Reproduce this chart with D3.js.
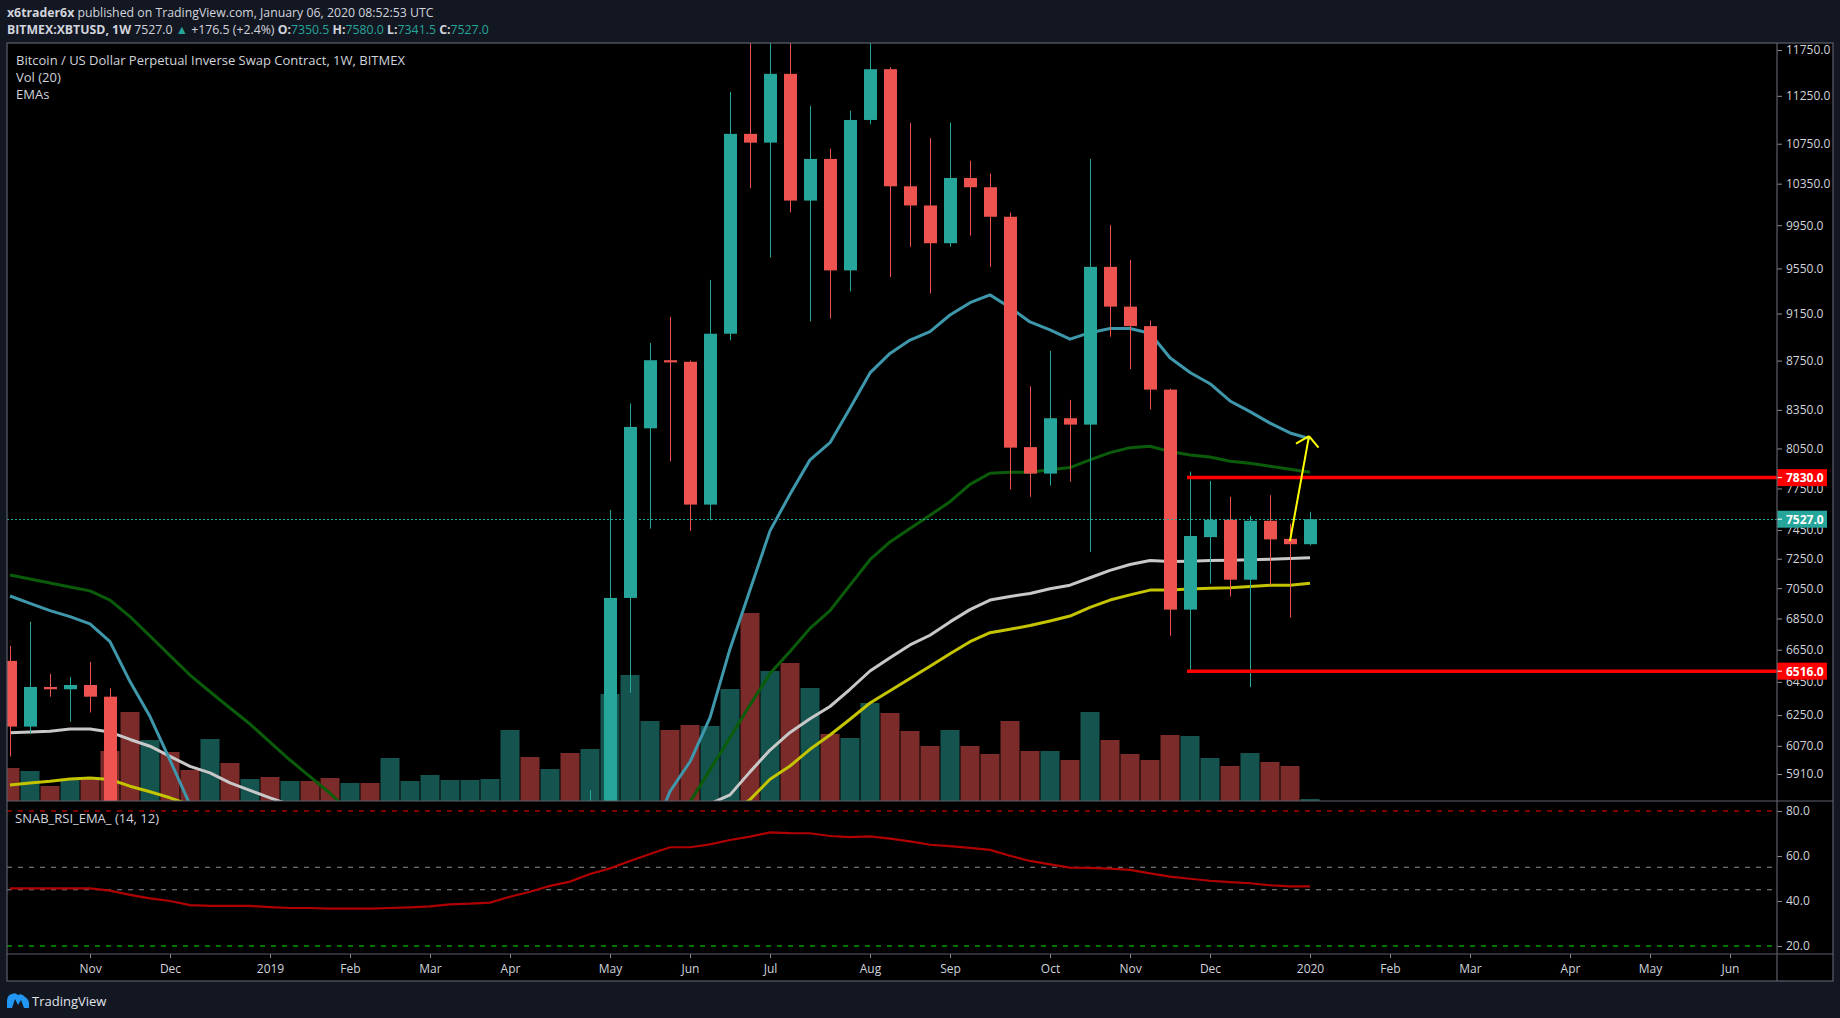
<!DOCTYPE html>
<html><head><meta charset="utf-8">
<script src="https://cdn.jsdelivr.net/npm/d3@7"></script>
<style>
html,body{margin:0;padding:0;background:#131722;overflow:hidden;}
svg{display:block;font-family:"Open Sans","Noto Sans",sans-serif;}
</style></head><body>
<svg id="c" width="1840" height="1018"></svg>
<script>
// ---------- DATA ----------
const weeks = ["2018-10-08","2018-10-15","2018-10-22","2018-10-29","2018-11-05","2018-11-12","2018-11-19","2018-11-26","2018-12-03","2018-12-10","2018-12-17","2018-12-24","2018-12-31",
"2019-01-07","2019-01-14","2019-01-21","2019-01-28","2019-02-04","2019-02-11","2019-02-18","2019-02-25","2019-03-04","2019-03-11","2019-03-18","2019-03-25","2019-04-01","2019-04-08","2019-04-15","2019-04-22","2019-04-29","2019-05-06","2019-05-13","2019-05-20","2019-05-27","2019-06-03","2019-06-10","2019-06-17","2019-06-24","2019-07-01","2019-07-08","2019-07-15","2019-07-22","2019-07-29","2019-08-05","2019-08-12","2019-08-19","2019-08-26","2019-09-02","2019-09-09","2019-09-16","2019-09-23","2019-09-30","2019-10-07","2019-10-14","2019-10-21","2019-10-28","2019-11-04","2019-11-11","2019-11-18","2019-11-25","2019-12-02","2019-12-09","2019-12-16","2019-12-23","2019-12-30","2020-01-06"];
const open  = [6580,6182,6419,6405,6431,6360,5600,4000,4100,3400,3250,4000,3850,4050,3600,3620,3560,3450,3650,3620,3850,3870,3950,4000,4020,4120,5050,5020,5300,5250,5750,6985,8205,8753,8740,7632,8976,10851,10761,11487,10185,10596,9532,10995,11538,10324,10138,9781,10406,10315,10030,8060,7860,8284,8234,9564,9210,9041,8512,6908,7400,7523,7107,7516,7388,7350.5];
const high  = [6674,6828,6499,6480,6573,6410,5630,4400,4200,3600,4200,4250,4100,4100,3750,3680,3600,3700,3700,4200,3900,4000,4050,4100,4200,5300,5450,5400,5650,5820,7593,8401,8897,9121,8750,9446,11291,13880,12000,13200,11143,10700,11092,12300,11560,10963,10807,10968,10578,10449,10070,8539,8831,8429,10596,9950,9627,9090,8520,7875,7805,7689,7550,7700,7495,7580];
const low   = [6009,6140,6360,6211,6265,5300,3650,3500,3300,3150,3200,3600,3700,3500,3500,3480,3350,3400,3550,3600,3750,3700,3800,3950,3950,4100,4900,5000,5050,5250,5750,6383,7460,7952,7444,7519,8920,10305,9649,10072,9082,9107,9344,10950,9472,9748,9326,9748,9852,9564,7743,7689,7771,7800,7297,8951,8680,8354,6739,6518,7081,6995,6418,7070,6856,7341.5];
const close = [6182,6419,6405,6431,6360,5600,4000,4100,3400,3250,4000,3850,4050,3600,3620,3560,3450,3650,3620,3850,3870,3950,4000,4020,4120,5050,5020,5300,5250,5750,6985,8216,8753,8735,7632,8976,10851,10761,11487,10185,10596,9532,10995,11538,10324,10138,9781,10406,10315,10030,8056,7860,8284,8234,9564,9210,9041,8512,6908,7408,7523,7107,7516,7384,7350.5,7527];
const volume = [3.3,3.0,1.5,2.1,2.3,5.0,8.9,6.1,4.9,3.1,6.2,3.8,2.2,2.4,2.0,2.0,2.3,1.8,1.8,4.3,2.0,2.6,2.1,2.1,2.2,7.1,4.4,3.2,4.8,5.2,10.7,12.6,8.0,7.1,7.6,7.5,11.2,18.8,13.0,13.8,11.3,6.7,6.3,9.8,8.8,7.0,5.5,7.1,5.5,4.7,8.0,5.0,5.0,4.1,8.9,6.1,4.7,4.1,6.6,6.5,4.3,3.5,4.8,3.9,3.5,0.2];
const emaTeal   = [6998,6949,6901,6862,6815,6701,6452,6241,5989,5740,5300,4850,4550,4350,4180,4050,3950,3870,3820,3800,3800,3820,3850,3880,3920,4050,4180,4300,4400,4550,4850,5200,5550,5813,5979,6235,6655,7038,7444,7708,7963,8094,8362,8648,8810,8922,8993,9137,9244,9313,9202,9077,9009,8930,8985,9020,9020,8980,8774,8652,8560,8421,8336,8246,8169,8124];
const emaGreen  = [7139,7112,7085,7058,7032,6971,6862,6737,6613,6492,6390,6292,6197,6092,5989,5895,5803,5700,5600,5520,5440,5370,5300,5240,5180,5200,5180,5190,5180,5230,5330,5450,5560,5650,5755,5933,6118,6310,6501,6639,6786,6901,7070,7243,7366,7460,7555,7653,7780,7863,7870,7870,7888,7905,7963,8018,8056,8067,8026,8000,7985,7952,7937,7915,7893,7870];
const emaWhite  = [6146,6150,6155,6168,6168,6150,6107,6068,6010,5953,5916,5860,5819,5778,5740,5700,5660,5620,5580,5550,5520,5490,5460,5440,5420,5430,5430,5440,5445,5460,5510,5570,5630,5680,5715,5745,5794,5922,6046,6148,6228,6301,6405,6517,6599,6680,6742,6828,6908,6971,6995,7015,7046,7070,7120,7170,7210,7237,7230,7233,7237,7240,7243,7247,7251,7256];
const emaYellow = [5849,5860,5869,5882,5888,5879,5842,5811,5778,5740,5705,5670,5640,5610,5580,5550,5520,5495,5470,5450,5430,5410,5390,5375,5360,5365,5370,5375,5380,5390,5420,5460,5500,5540,5580,5620,5690,5768,5881,5955,6050,6133,6225,6322,6396,6471,6547,6624,6701,6758,6780,6805,6834,6866,6923,6971,7005,7037,7037,7045,7050,7053,7062,7070,7070,7083];
const rsi = [45.6,45.6,45.6,45.6,45.6,44.6,42.7,41.2,40.0,38.2,37.8,37.8,37.8,37.3,36.9,36.9,36.6,36.6,36.6,36.9,37.2,37.6,38.5,38.8,39.3,41.9,44.1,46.7,48.6,52.0,54.5,57.8,60.9,63.9,63.9,65.2,67.1,68.6,70.5,70.2,70.1,68.9,68.4,68.7,67.7,66.5,65.0,64.4,63.6,62.7,60.1,57.8,56.3,54.8,54.7,54.4,53.8,52.3,50.8,49.9,49.0,48.4,47.9,47.0,46.5,46.5];
const priceTicks = [11750,11250,10750,10350,9950,9550,9150,8750,8350,8050,7750,7450,7250,7050,6850,6650,6450,6250,6070,5910];
const rsiTicks = [80,60,40,20];
const rsiLevels = [{v:80,c:"#ff0000"},{v:55,c:"#8a8d96"},{v:45,c:"#8a8d96"},{v:20,c:"#00e600"}];
const timeTicks = ["2018-11-05","2018-12-03","2019-01-07","2019-02-04","2019-03-04","2019-04-01","2019-05-06","2019-06-03","2019-07-01","2019-08-05","2019-09-02","2019-10-07","2019-11-04","2019-12-02","2020-01-06","2020-02-03","2020-03-02","2020-04-06","2020-05-04","2020-06-01"];
const timeLabels = ["Nov","Dec","2019","Feb","Mar","Apr","May","Jun","Jul","Aug","Sep","Oct","Nov","Dec","2020","Feb","Mar","Apr","May","Jun"];
const levelLines = [{price:7830,from:"2019-11-25"},{price:6516,from:"2019-11-25"}];
const lastPrice = 7527;
const arrowPts = [{d:"2019-12-30",p:7373},{d:"2020-01-06",p:8145}];

// ---------- LAYOUT ----------
const W=1840,H=1018;
const L=7, R=1777, T=43, MB=801, RB=954, TB=981, OR=1833;
const UP="#26a69a", DN="#ef5350", UPV="#14534e", DNV="#7a2b2a";
const TXT="#d1d4dc", GRID="#5d606b";

const svg=d3.select('#c');
svg.append('rect').attr('width',W).attr('height',H).attr('fill','#131722');
svg.append('rect').attr('x',L).attr('y',T).attr('width',OR-L).attr('height',TB-T).attr('fill','#000');

const parse=d3.utcParse('%Y-%m-%d');
const dates=weeks.map(parse);
const x=d3.scaleUtc().domain([parse('2018-11-05'),parse('2020-06-01')]).range([90,1730]);
const y=d3.scaleLog().domain([5910,11750]).range([774,50]);
const yv=d3.scaleLinear().domain([0,20]).range([MB,MB-200]);
const yr=d3.scaleLinear().domain([20,80]).range([946,811]);

const defs=svg.append('defs');
defs.append('clipPath').attr('id','cm').append('rect').attr('x',L).attr('y',T).attr('width',R-L).attr('height',MB-T);
defs.append('clipPath').attr('id','cr').append('rect').attr('x',L).attr('y',MB+1).attr('width',R-L).attr('height',RB-MB-1);

const rows=dates.map((d,i)=>({d,o:open[i],h:high[i],l:low[i],c:close[i],v:volume[i]}));

// header
const hd=svg.append('g').attr('font-size',12.3).attr('fill',TXT);
const h1=hd.append('text').attr('x',7).attr('y',17);
h1.append('tspan').attr('font-weight','bold').text('x6trader6x');
h1.append('tspan').text(' published on TradingView.com, January 06, 2020 08:52:53 UTC');
const h2=hd.append('text').attr('x',7).attr('y',34);
h2.append('tspan').attr('font-weight','bold').text('BITMEX:XBTUSD, 1W');
h2.append('tspan').text('  7527.0 ');
h2.append('tspan').attr('fill',UP).text('▲');
h2.append('tspan').text(' +176.5 (+2.4%) ');
[['O:','7350.5'],['H:','7580.0'],['L:','7341.5'],['C:','7527.0']].forEach(([k,v],i)=>{
  h2.append('tspan').attr('font-weight','bold').text((i?' ':'')+k);
  h2.append('tspan').attr('fill',UP).text(v);
});

// main pane
const gm=svg.append('g').attr('clip-path','url(#cm)');
// volume
gm.append('g').selectAll('rect').data(rows).join('rect')
  .attr('x',d=>x(d.d)-9.5).attr('width',19)
  .attr('y',d=>yv(d.v)).attr('height',d=>MB-yv(d.v))
  .attr('fill',d=>d.c>=d.o?UPV:DNV);
// EMAs
const emaDefs=[{v:emaYellow,c:"#c4c400"},{v:emaWhite,c:"#c8c8c8"},{v:emaGreen,c:"#0a5c0a"},{v:emaTeal,c:"#3e97aa"}];
emaDefs.forEach(e=>{
  gm.append('path').datum(e.v.map((v,i)=>[dates[i],v]))
    .attr('d',d3.line().x(d=>x(d[0])).y(d=>y(d[1])))
    .attr('fill','none').attr('stroke',e.c).attr('stroke-width',3).attr('stroke-linejoin','round');
});
// candles
const cg=gm.append('g').selectAll('g').data(rows).join('g');
cg.append('line').attr('x1',d=>Math.round(x(d.d))+0.5).attr('x2',d=>Math.round(x(d.d))+0.5)
  .attr('y1',d=>y(d.h)).attr('y2',d=>y(d.l)).attr('stroke',d=>d.c>=d.o?UP:DN).attr('stroke-width',1);
cg.append('rect').attr('x',d=>Math.round(x(d.d))-6).attr('width',13)
  .attr('y',d=>y(Math.max(d.o,d.c))).attr('height',d=>Math.max(1.5,y(Math.min(d.o,d.c))-y(Math.max(d.o,d.c))))
  .attr('fill',d=>d.c>=d.o?UP:DN);
// last price dotted line
gm.append('line').attr('x1',L).attr('x2',R).attr('y1',Math.round(y(lastPrice))+0.5).attr('y2',Math.round(y(lastPrice))+0.5)
  .attr('stroke',UP).attr('stroke-width',1).attr('stroke-dasharray','2,2');
// level lines
levelLines.forEach(lv=>{
  gm.append('line').attr('x1',x(parse(lv.from))-3).attr('x2',R).attr('y1',y(lv.price)).attr('y2',y(lv.price))
    .attr('stroke','#ff0000').attr('stroke-width',3.5);
});
// arrow
const a0=[x(parse(arrowPts[0].d)),y(arrowPts[0].p)], a1=[x(parse(arrowPts[1].d))-1,y(arrowPts[1].p)];
gm.append('line').attr('x1',a0[0]).attr('y1',a0[1]).attr('x2',a1[0]).attr('y2',a1[1]).attr('stroke','#ffff00').attr('stroke-width',2);
const ang=Math.atan2(a0[1]-a1[1],a0[0]-a1[0]);
[-0.87,0.87].forEach(s=>{
  gm.append('line').attr('x1',a1[0]).attr('y1',a1[1])
    .attr('x2',a1[0]+15*Math.cos(ang+s)).attr('y2',a1[1]+15*Math.sin(ang+s))
    .attr('stroke','#ffff00').attr('stroke-width',2);
});

// legend
const lg=svg.append('g').attr('font-size',13).attr('fill',TXT);
lg.append('text').attr('x',16).attr('y',65).text('Bitcoin / US Dollar Perpetual Inverse Swap Contract, 1W, BITMEX');
lg.append('text').attr('x',16).attr('y',82).text('Vol (20)');
lg.append('text').attr('x',16).attr('y',99).text('EMAs');

// RSI pane
const gr=svg.append('g').attr('clip-path','url(#cr)');
rsiLevels.forEach(lv=>{
  gr.append('line').attr('x1',L).attr('x2',R).attr('y1',yr(lv.v)).attr('y2',yr(lv.v))
    .attr('stroke',lv.c).attr('stroke-width',1.2).attr('stroke-dasharray','5,6');
});
gr.append('path').datum(rsi.map((v,i)=>[dates[i],v]))
  .attr('d',d3.line().x(d=>x(d[0])).y(d=>yr(d[1])))
  .attr('fill','none').attr('stroke','#b00000').attr('stroke-width',2.2);
svg.append('text').attr('x',15).attr('y',823).attr('font-size',13).attr('fill',TXT).text('SNAB_RSI_EMA_ (14, 12)');

// axes
function styleAxis(g){
  g.select('.domain').remove();
  g.selectAll('.tick line').attr('stroke','#8a8d96');
  g.selectAll('.tick text').attr('fill',TXT).attr('font-size',12).attr('font-family','"Open Sans","Noto Sans",sans-serif');
}
svg.append('g').attr('transform',`translate(${R},0)`)
  .call(d3.axisRight(y).tickValues(priceTicks).tickFormat(d3.format('.1f')).tickSize(5).tickPadding(4)).call(styleAxis);
svg.append('g').attr('transform',`translate(${R},0)`)
  .call(d3.axisRight(yr).tickValues(rsiTicks).tickFormat(d3.format('.1f')).tickSize(5).tickPadding(4)).call(styleAxis);
svg.append('g').attr('transform',`translate(0,${RB})`)
  .call(d3.axisBottom(x).tickValues(timeTicks.map(parse)).tickFormat((d,i)=>timeLabels[i]).tickSize(4).tickPadding(6)).call(styleAxis);

// price label boxes
function tag(price,color){
  const yy=y(price);
  svg.append('rect').attr('x',R).attr('y',yy-8.5).attr('width',50).attr('height',17).attr('fill',color);
  svg.append('line').attr('x1',R).attr('x2',R+5).attr('y1',yy).attr('y2',yy).attr('stroke','#fff');
  svg.append('text').attr('x',R+9).attr('y',yy+4.5).attr('font-size',12).attr('font-weight','bold').attr('fill','#fff').text(d3.format('.1f')(price));
}
levelLines.forEach(lv=>tag(lv.price,'#ff0000'));
tag(lastPrice,UP);

// frame lines
const fr=svg.append('g').attr('stroke',GRID).attr('stroke-width',1.2).attr('fill','none');
fr.append('rect').attr('x',L).attr('y',T).attr('width',OR-L).attr('height',TB-T);
fr.append('line').attr('x1',L).attr('x2',OR).attr('y1',MB).attr('y2',MB);
fr.append('line').attr('x1',L).attr('x2',OR).attr('y1',RB).attr('y2',RB);
fr.append('line').attr('x1',R).attr('x2',R).attr('y1',T).attr('y2',TB);

// footer logo
const lo=svg.append('g').attr('transform','translate(7,992)');
lo.append('path').attr('d','M0,16 L0,9 Q0,3 5,2 Q8,0 11,3 Q15,1 18,5 Q22,7 22,12 L22,16 L17,16 L14,8 L11,13 L8,7 L5,16 Z').attr('fill','#2196f3');
svg.append('text').attr('x',32).attr('y',1006).attr('font-size',13).attr('fill','#e0e3eb').text('TradingView');
</script>
</body></html>
